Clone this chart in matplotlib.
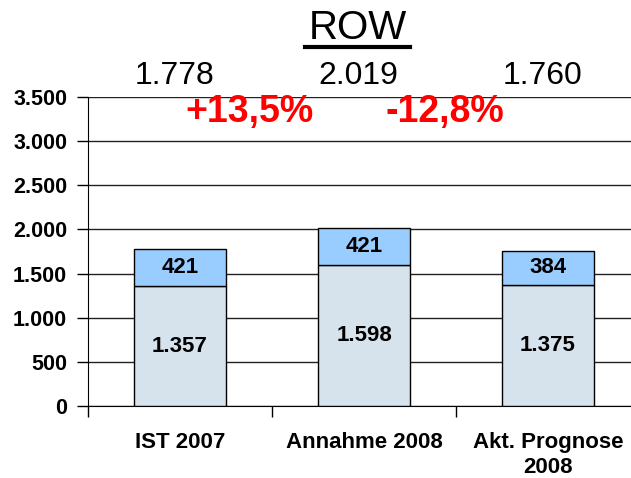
import matplotlib.pyplot as plt
from matplotlib.lines import Line2D

plt.rcParams['font.family'] = ['Liberation Sans', 'DejaVu Sans']

categories = ['IST 2007', 'Annahme 2008', 'Akt. Prognose\n2008']
base = [1357, 1598, 1375]
top = [421, 421, 384]
totals = ['1.778', '2.019', '1.760']
changes = ['+13,5%', '-12,8%']
yticks = [0, 500, 1000, 1500, 2000, 2500, 3000, 3500]


def fmt(v):
    return f'{v:,}'.replace(',', '.')


W, H = 631, 478
fig = plt.figure(figsize=(W / 100, H / 100), dpi=100)
ax = fig.add_axes([88 / W, 72 / H, 552 / W, 309 / H])

x = range(len(categories))
ax.bar(x, base, width=0.5, color='#D6E2EC', edgecolor='black', lw=1, zorder=3)
ax.bar(x, top, bottom=base, width=0.5, color='#99CCFF', edgecolor='black', lw=1, zorder=3)

for i in x:
    ax.text(i, base[i] / 2, fmt(base[i]), ha='center', va='center',
            fontsize=16, fontweight='bold', zorder=4)
    ax.text(i, base[i] + top[i] / 2, fmt(top[i]), ha='center', va='center',
            fontsize=16, fontweight='bold', zorder=4)

ax.set_xlim(-0.5, 2.5)
ax.set_ylim(0, 3500)
ax.set_yticks(yticks)
ax.set_yticklabels([fmt(v) for v in yticks], fontsize=15.5, fontweight='bold')
ax.set_xticks([-0.5, 0.5, 1.5, 2.5])
ax.set_xticklabels([])
ax.set_xticks(list(x), minor=True)
ax.set_xticklabels(categories, minor=True, fontsize=16, fontweight='bold',
                   linespacing=1.25)
ax.tick_params(axis='x', which='minor', length=0, pad=19)
ax.tick_params(axis='x', which='major', length=8, width=1, direction='out')
ax.tick_params(axis='y', length=8, width=1, direction='out', pad=7)
ax.yaxis.grid(True, color='#222222', lw=1, zorder=0)
for s in ['top', 'right']:
    ax.spines[s].set_visible(False)

# title with underline
fig.text(358 / W, 1 - 28 / H, 'ROW', ha='center', va='center', fontsize=29)
fig.add_artist(Line2D([305 / W, 410 / W], [1 - 47 / H, 1 - 47 / H],
                      color='black', lw=3))

# totals above bars
for i in x:
    ax.annotate(totals[i], (i, 3500), xytext=(-4, 15), textcoords='offset points',
                ha='center', va='center', fontsize=23, annotation_clip=False)

# change percentages
for c, xp in zip(changes, [0.38, 1.44]):
    ax.annotate(c, (xp, 3500), xytext=(0, -11), textcoords='offset points',
                ha='center', va='center', fontsize=27, fontweight='bold',
                color='#FF0000', annotation_clip=False)

fig.savefig('out.png', dpi=100)
